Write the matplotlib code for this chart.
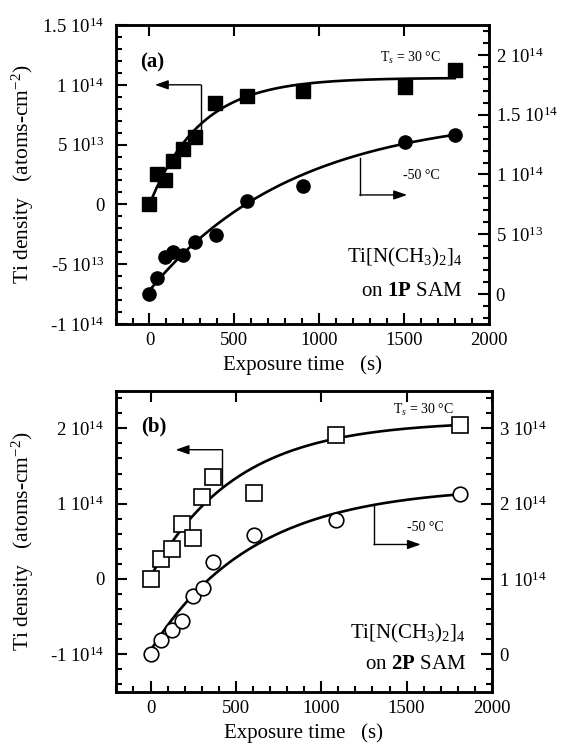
import numpy as np
import matplotlib
matplotlib.use("Agg")
import matplotlib.pyplot as plt
from matplotlib.ticker import MultipleLocator

plt.rcParams['font.family'] = ['Liberation Serif', 'DejaVu Serif']
plt.rcParams['mathtext.fontset'] = 'custom'
plt.rcParams['mathtext.rm'] = 'Liberation Serif'
plt.rcParams['mathtext.it'] = 'Liberation Serif:italic'
plt.rcParams['mathtext.bf'] = 'Liberation Serif:bold'

# ---- panel (a): 1P SAM ----
t_a_30 = [0, 47, 91, 137, 200, 270, 386, 574, 907, 1509, 1804]
ti_a_30 = [0.0, 2.5e13, 2.0e13, 3.6e13, 4.6e13, 5.6e13, 8.5e13, 9.1e13, 9.45e13, 9.8e13, 1.12e14]
t_a_m50 = [0, 47, 91, 137, 200, 270, 390, 574, 907, 1509, 1804]
ti_a_m50 = [0.0, 1.35e13, 3.1e13, 3.5e13, 3.3e13, 4.35e13, 4.9e13, 7.75e13, 9.0e13, 1.27e14, 1.33e14]
# exponential fits (offset, amplitude, time constant)
fit_a_30 = (0.0, 1.058e14, 300.0)
fit_a_m50 = (0.3e13, 1.48e14, 850.0)

# ---- panel (b): 2P SAM ----
t_b_30 = [0, 63, 126, 183, 246, 301, 364, 604, 1084, 1810]
ti_b_30 = [0.0, 2.62e13, 4.0e13, 7.33e13, 5.5e13, 1.09e14, 1.35e14, 1.14e14, 1.91e14, 2.05e14]
t_b_m50 = [0, 63, 126, 183, 246, 305, 364, 604, 1084, 1810]
ti_b_m50 = [0.0, 1.96e13, 3.2e13, 4.44e13, 7.8e13, 8.84e13, 1.227e14, 1.587e14, 1.787e14, 2.133e14]
fit_b_30 = (0.3e13, 2.07e14, 500.0)
fit_b_m50 = (0.5e13, 2.18e14, 600.0)

ticks_a_left = [-1e14, -5e13, 0, 5e13, 1e14, 1.5e14]
labels_a_left = ['-1 10$^{14}$', '-5 10$^{13}$', '0', '5 10$^{13}$', '1 10$^{14}$', '1.5 10$^{14}$']
ticks_a_right = [0, 5e13, 1e14, 1.5e14, 2e14]
labels_a_right = ['0', '5 10$^{13}$', '1 10$^{14}$', '1.5 10$^{14}$', '2 10$^{14}$']
ticks_b_left = [-1e14, 0, 1e14, 2e14]
labels_b_left = ['-1 10$^{14}$', '0', '1 10$^{14}$', '2 10$^{14}$']
ticks_b_right = [0, 1e14, 2e14, 3e14]
labels_b_right = ['0', '1 10$^{14}$', '2 10$^{14}$', '3 10$^{14}$']
xticks = [0, 500, 1000, 1500, 2000]


def expfit(t, p):
    c0, amp, tau = p
    return c0 + amp * (1 - np.exp(-t / tau))


def style(ax, side, minor_y):
    for s in ax.spines.values():
        s.set_linewidth(1.8)
    ax.tick_params(which='both', direction='in', width=1.5, labelsize=13.5)
    ax.tick_params(which='major', length=8)
    ax.tick_params(which='minor', length=4)
    ax.yaxis.set_minor_locator(MultipleLocator(minor_y))
    if side == 'left':
        ax.tick_params(axis='y', left=True, right=False, pad=8)
        ax.tick_params(axis='x', top=True, bottom=True, pad=6)
        ax.xaxis.set_minor_locator(MultipleLocator(100))
    else:
        ax.tick_params(axis='y', right=True, left=False, pad=5)


def arrow(ax, pts):
    xs = [p[0] for p in pts]
    ys = [p[1] for p in pts]
    ax.plot(xs[:-1], ys[:-1], color='k', lw=1.0)
    ax.annotate('', xy=pts[-1], xytext=pts[-2],
                arrowprops=dict(arrowstyle='-|>,head_length=0.8,head_width=0.28',
                                color='k', lw=1.0, shrinkA=0, shrinkB=0))


fig = plt.figure(figsize=(5.61, 7.51), dpi=100)

# panel a
ax = fig.add_axes([0.206, 0.5686, 0.665, 0.3981])
ax2 = ax.twinx()
tt = np.linspace(0, 1800, 300)
ax.plot(t_a_30, ti_a_30, 's', color='k', ms=10, zorder=3)
ax.plot(tt, expfit(tt, fit_a_30), color='k', lw=1.9)
ax2.plot(t_a_m50, ti_a_m50, 'o', color='k', ms=9.5, zorder=3)
ax2.plot(tt, expfit(tt, fit_a_m50), color='k', lw=1.9)
ax.set_xlim(-200, 2000)
ax.set_ylim(-1e14, 1.5e14)
ax2.set_ylim(-2.5e13, 2.25e14)
ax.set_xticks(xticks)
ax.set_yticks(ticks_a_left, labels_a_left)
ax2.set_yticks(ticks_a_right, labels_a_right)
style(ax, 'left', 1e13)
style(ax2, 'right', 1e13)
arrow(ax, [(302, 6.17e13), (302, 1.0e14), (32, 1.0e14)])
arrow(ax2, [(1240, 1.14e14), (1240, 8.29e13), (1519, 8.29e13)])
ax.text(-53, 0.875, '(a)', transform=ax.get_xaxis_transform(), fontsize=15,
        fontweight='bold', va='center', ha='left')
ax.text(1360, 0.889, 'T$_s$ = 30 °C', transform=ax.get_xaxis_transform(), fontsize=10,
        va='center', ha='left')
ax.text(1495, 0.496, '-50 °C', transform=ax.get_xaxis_transform(), fontsize=10,
        va='center', ha='left')
ax.text(1846, 0.224, 'Ti[N(CH$_3$)$_2$]$_4$', transform=ax.get_xaxis_transform(),
        fontsize=15, va='center', ha='right')
ax.text(1846, 0.110, 'on $\\mathbf{1P}$ SAM', transform=ax.get_xaxis_transform(),
        fontsize=15, va='center', ha='right')
ax.set_xlabel('Exposure time   (s)', fontsize=15, labelpad=4)
ax.set_ylabel('Ti density   (atoms-cm$^{-2}$)', fontsize=15.5)
ax.yaxis.set_label_coords(-0.213, 0.5)

# panel b
bx = fig.add_axes([0.206, 0.0786, 0.671, 0.4012])
bx2 = bx.twinx()
bx.plot(t_b_30, ti_b_30, 's', mfc='white', mec='k', mew=1.2, ms=11, zorder=3)
bx.plot(tt, expfit(tt, fit_b_30), color='k', lw=1.9, zorder=2)
bx2.plot(t_b_m50, ti_b_m50, 'o', mfc='white', mec='k', mew=1.2, ms=10.5, zorder=3)
bx2.plot(tt, expfit(tt, fit_b_m50), color='k', lw=1.9, zorder=2)
bx.set_xlim(-205, 2000)
bx.set_ylim(-1.5e14, 2.5e14)
bx2.set_ylim(-0.5e14, 3.5e14)
bx.set_xticks(xticks)
bx.set_yticks(ticks_b_left, labels_b_left)
bx2.set_yticks(ticks_b_right, labels_b_right)
style(bx, 'left', 2e13)
style(bx2, 'right', 2e13)
arrow(bx, [(421, 1.23e14), (421, 1.716e14), (147, 1.716e14)])
arrow(bx2, [(1309, 1.987e14), (1309, 1.458e14), (1583, 1.458e14)])
bx.text(-53, 0.880, '(b)', transform=bx.get_xaxis_transform(), fontsize=15,
        fontweight='bold', va='center', ha='left')
bx.text(1420, 0.936, 'T$_s$ = 30 °C', transform=bx.get_xaxis_transform(), fontsize=10,
        va='center', ha='left')
bx.text(1505, 0.545, '-50 °C', transform=bx.get_xaxis_transform(), fontsize=10,
        va='center', ha='left')
bx.text(1846, 0.195, 'Ti[N(CH$_3$)$_2$]$_4$', transform=bx.get_xaxis_transform(),
        fontsize=15, va='center', ha='right')
bx.text(1846, 0.090, 'on $\\mathbf{2P}$ SAM', transform=bx.get_xaxis_transform(),
        fontsize=15, va='center', ha='right')
bx.set_xlabel('Exposure time   (s)', fontsize=15, labelpad=4)
bx.set_ylabel('Ti density   (atoms-cm$^{-2}$)', fontsize=15.5)
bx.yaxis.set_label_coords(-0.211, 0.5)

fig.savefig('out.png', dpi=100)
